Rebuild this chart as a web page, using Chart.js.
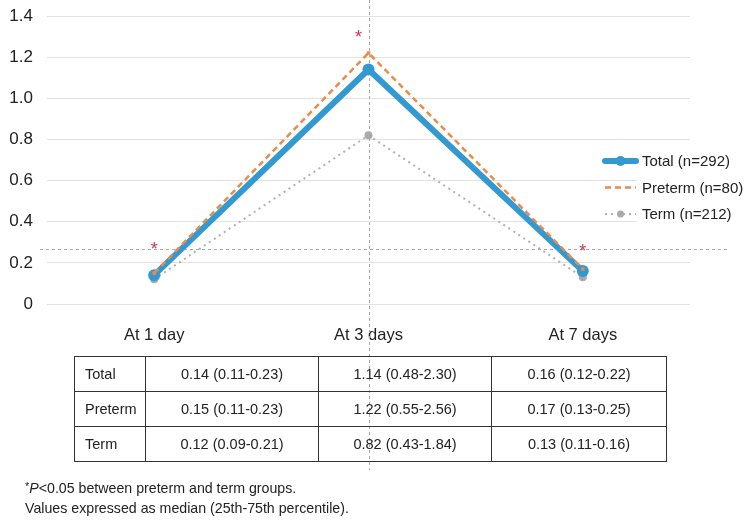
<!DOCTYPE html>
<html>
<head>
<meta charset="utf-8">
<script src="https://cdn.jsdelivr.net/npm/chart.js@4"></script>
<style>
  html, body { margin:0; padding:0; background:#fff; }
  #wrap { position:relative; width:753px; height:526px; overflow:hidden; font-family:"Liberation Sans", Arial, sans-serif; color:#222; }
  #c { position:absolute; left:0; top:0; }
  #tbl { position:absolute; left:74px; top:356px; border-collapse:collapse; table-layout:fixed; width:592px; background:transparent; }
  #tbl td { border:1.5px solid #333; height:34px; padding:0; font-size:14.5px; text-align:center; vertical-align:middle; }
  #tbl td.rl { text-align:left; padding-left:10px; }
  #note { position:absolute; left:25px; top:476px; font-size:14.2px; line-height:20px; color:#222; }
  #note sup { font-size:11px; vertical-align:3px; }
</style>
</head>
<body>
<div id="wrap">
  <canvas id="c" width="753" height="526"></canvas>
  <table id="tbl"></table>
  <div id="note"><sup>*</sup><i>P</i>&lt;0.05 between preterm and term groups.<br>Values expressed as median (25th-75th percentile).</div>
</div>
<script>
const categories = ['At 1 day', 'At 3 days', 'At 7 days'];
const totalMedian = [0.14, 1.14, 0.16];
const pretermMedian = [0.15, 1.22, 0.17];
const termMedian = [0.12, 0.82, 0.13];
const totalIQR = ['0.11-0.23', '0.48-2.30', '0.12-0.22'];
const pretermIQR = ['0.11-0.23', '0.55-2.56', '0.13-0.25'];
const termIQR = ['0.09-0.21', '0.43-1.84', '0.11-0.16'];
const seriesNames = ['Total (n=292)', 'Preterm (n=80)', 'Term (n=212)'];
const rowNames = ['Total', 'Preterm', 'Term'];
const yTickLabels = ['0', '0.2', '0.4', '0.6', '0.8', '1.0', '1.2', '1.4'];
const significant = [true, true, true];
const refLineValue = 0.268;
const refCategoryIndex = 1;

// table
const tbl = document.getElementById('tbl');
const colg = document.createElement('colgroup');
[71, 173, 173, 175].forEach(w => { const c = document.createElement('col'); c.style.width = w + 'px'; colg.appendChild(c); });
tbl.appendChild(colg);
const rowsData = [[totalMedian, totalIQR], [pretermMedian, pretermIQR], [termMedian, termIQR]];
rowsData.forEach((r, i) => {
  const tr = document.createElement('tr');
  const th = document.createElement('td'); th.className = 'rl'; th.textContent = rowNames[i]; tr.appendChild(th);
  r[0].forEach((v, j) => {
    const td = document.createElement('td');
    td.textContent = v.toFixed(2) + ' (' + r[1][j] + ')';
    tr.appendChild(td);
  });
  tbl.appendChild(tr);
});

const FONT = '"Liberation Sans", Arial, sans-serif';

const overlay = {
  id: 'overlay',
  beforeDatasetsDraw(chart) {
    const ctx = chart.ctx, xs = chart.scales.x, ys = chart.scales.y;
    ctx.save();
    ctx.strokeStyle = '#a8a8a8';
    ctx.lineWidth = 1;
    ctx.setLineDash([3, 3]);
    const yy = Math.round(ys.getPixelForValue(refLineValue)) + 0.5;
    ctx.beginPath(); ctx.moveTo(40, yy); ctx.lineTo(727, yy); ctx.stroke();
    const xx = Math.round(xs.getPixelForValue(refCategoryIndex)) + 0.5;
    ctx.beginPath(); ctx.moveTo(xx, 0); ctx.lineTo(xx, 470); ctx.stroke();
    ctx.restore();
  },
  afterDatasetsDraw(chart) {
    const ctx = chart.ctx, xs = chart.scales.x, ys = chart.scales.y;
    ctx.save();
    // asterisks
    const dx = [0, -10, 0], dy = [-29, -21, -23];
    ctx.fillStyle = '#d9304a';
    ctx.font = '18px ' + FONT;
    ctx.textAlign = 'center';
    ctx.textBaseline = 'alphabetic';
    significant.forEach((s, i) => {
      if (!s) return;
      const x = xs.getPixelForValue(i) + dx[i];
      const y = ys.getPixelForValue(pretermMedian[i]) + dy[i];
      ctx.fillText('*', x, y + 11);
    });
    // legend
    ctx.fillStyle = '#fff';
    ctx.fillRect(637, 148, 116, 80);
    chart.data.datasets.forEach((ds, i) => {
      const y = 161 + i * 26.5;
      ctx.save();
      ctx.strokeStyle = ds.borderColor;
      ctx.lineWidth = ds.borderWidth;
      ctx.setLineDash(ds.borderDash || []);
      ctx.lineCap = ds.borderCapStyle || 'butt';
      ctx.beginPath(); ctx.moveTo(605, y); ctx.lineTo(636, y); ctx.stroke();
      ctx.restore();
      if (ds.legendPoint) {
        ctx.fillStyle = ds.pointBackgroundColor;
        ctx.beginPath(); ctx.arc(620.5, y, ds.legendPoint, 0, Math.PI * 2); ctx.fill();
      }
      ctx.fillStyle = '#222';
      ctx.font = '15px ' + FONT;
      ctx.textAlign = 'left';
      ctx.textBaseline = 'middle';
      ctx.fillText(ds.label, 642, y + 1);
    });
    ctx.restore();
  }
};

new Chart(document.getElementById('c'), {
  type: 'line',
  data: {
    labels: categories,
    datasets: [
      {
        label: seriesNames[0], data: totalMedian, order: 1,
        borderColor: '#3399d1', backgroundColor: '#3399d1', borderWidth: 6, borderCapStyle: 'round',
        pointRadius: 6, pointBackgroundColor: '#3399d1', pointBorderWidth: 0, pointHoverRadius: 6,
        legendPoint: 5, tension: 0
      },
      {
        label: seriesNames[1], data: pretermMedian, order: 0,
        borderColor: '#ec8a48', backgroundColor: '#ec8a48', borderWidth: 2.5, borderDash: [6, 4],
        pointStyle: 'rect', pointRadius: 2.5, pointBackgroundColor: '#ec8a48', pointBorderWidth: 0,
        legendPoint: 0, tension: 0
      },
      {
        label: seriesNames[2], data: termMedian, order: 2,
        borderColor: '#b0b0b0', backgroundColor: '#b0b0b0', borderWidth: 2, borderDash: [2, 4],
        pointRadius: 4, pointBackgroundColor: '#aaaaaa', pointBorderWidth: 0,
        legendPoint: 3.5, tension: 0
      }
    ]
  },
  options: {
    responsive: false,
    animation: false,
    devicePixelRatio: 1,
    events: [],
    layout: { padding: { top: 16, right: 63, bottom: 182, left: 0 } },
    plugins: { legend: { display: false }, tooltip: { enabled: false } },
    scales: {
      x: {
        offset: true,
        grid: { display: false, drawTicks: false },
        border: { display: false },
        ticks: { font: { size: 16.5, family: FONT }, color: '#222', padding: 22 },
        afterFit(s) { s.height = 40; s.paddingLeft = 0; s.paddingRight = 0; }
      },
      y: {
        min: 0, max: 1.4,
        grid: { color: '#e2e2e2', drawTicks: false, lineWidth: 1 },
        border: { display: false },
        ticks: {
          stepSize: 0.2, padding: 14, color: '#222', font: { size: 17, family: FONT },
          callback: (v, i) => yTickLabels[i]
        },
        afterFit(s) { s.width = 47; s.paddingTop = 0; s.paddingBottom = 0; }
      }
    }
  },
  plugins: [overlay]
});
</script>
</body>
</html>
